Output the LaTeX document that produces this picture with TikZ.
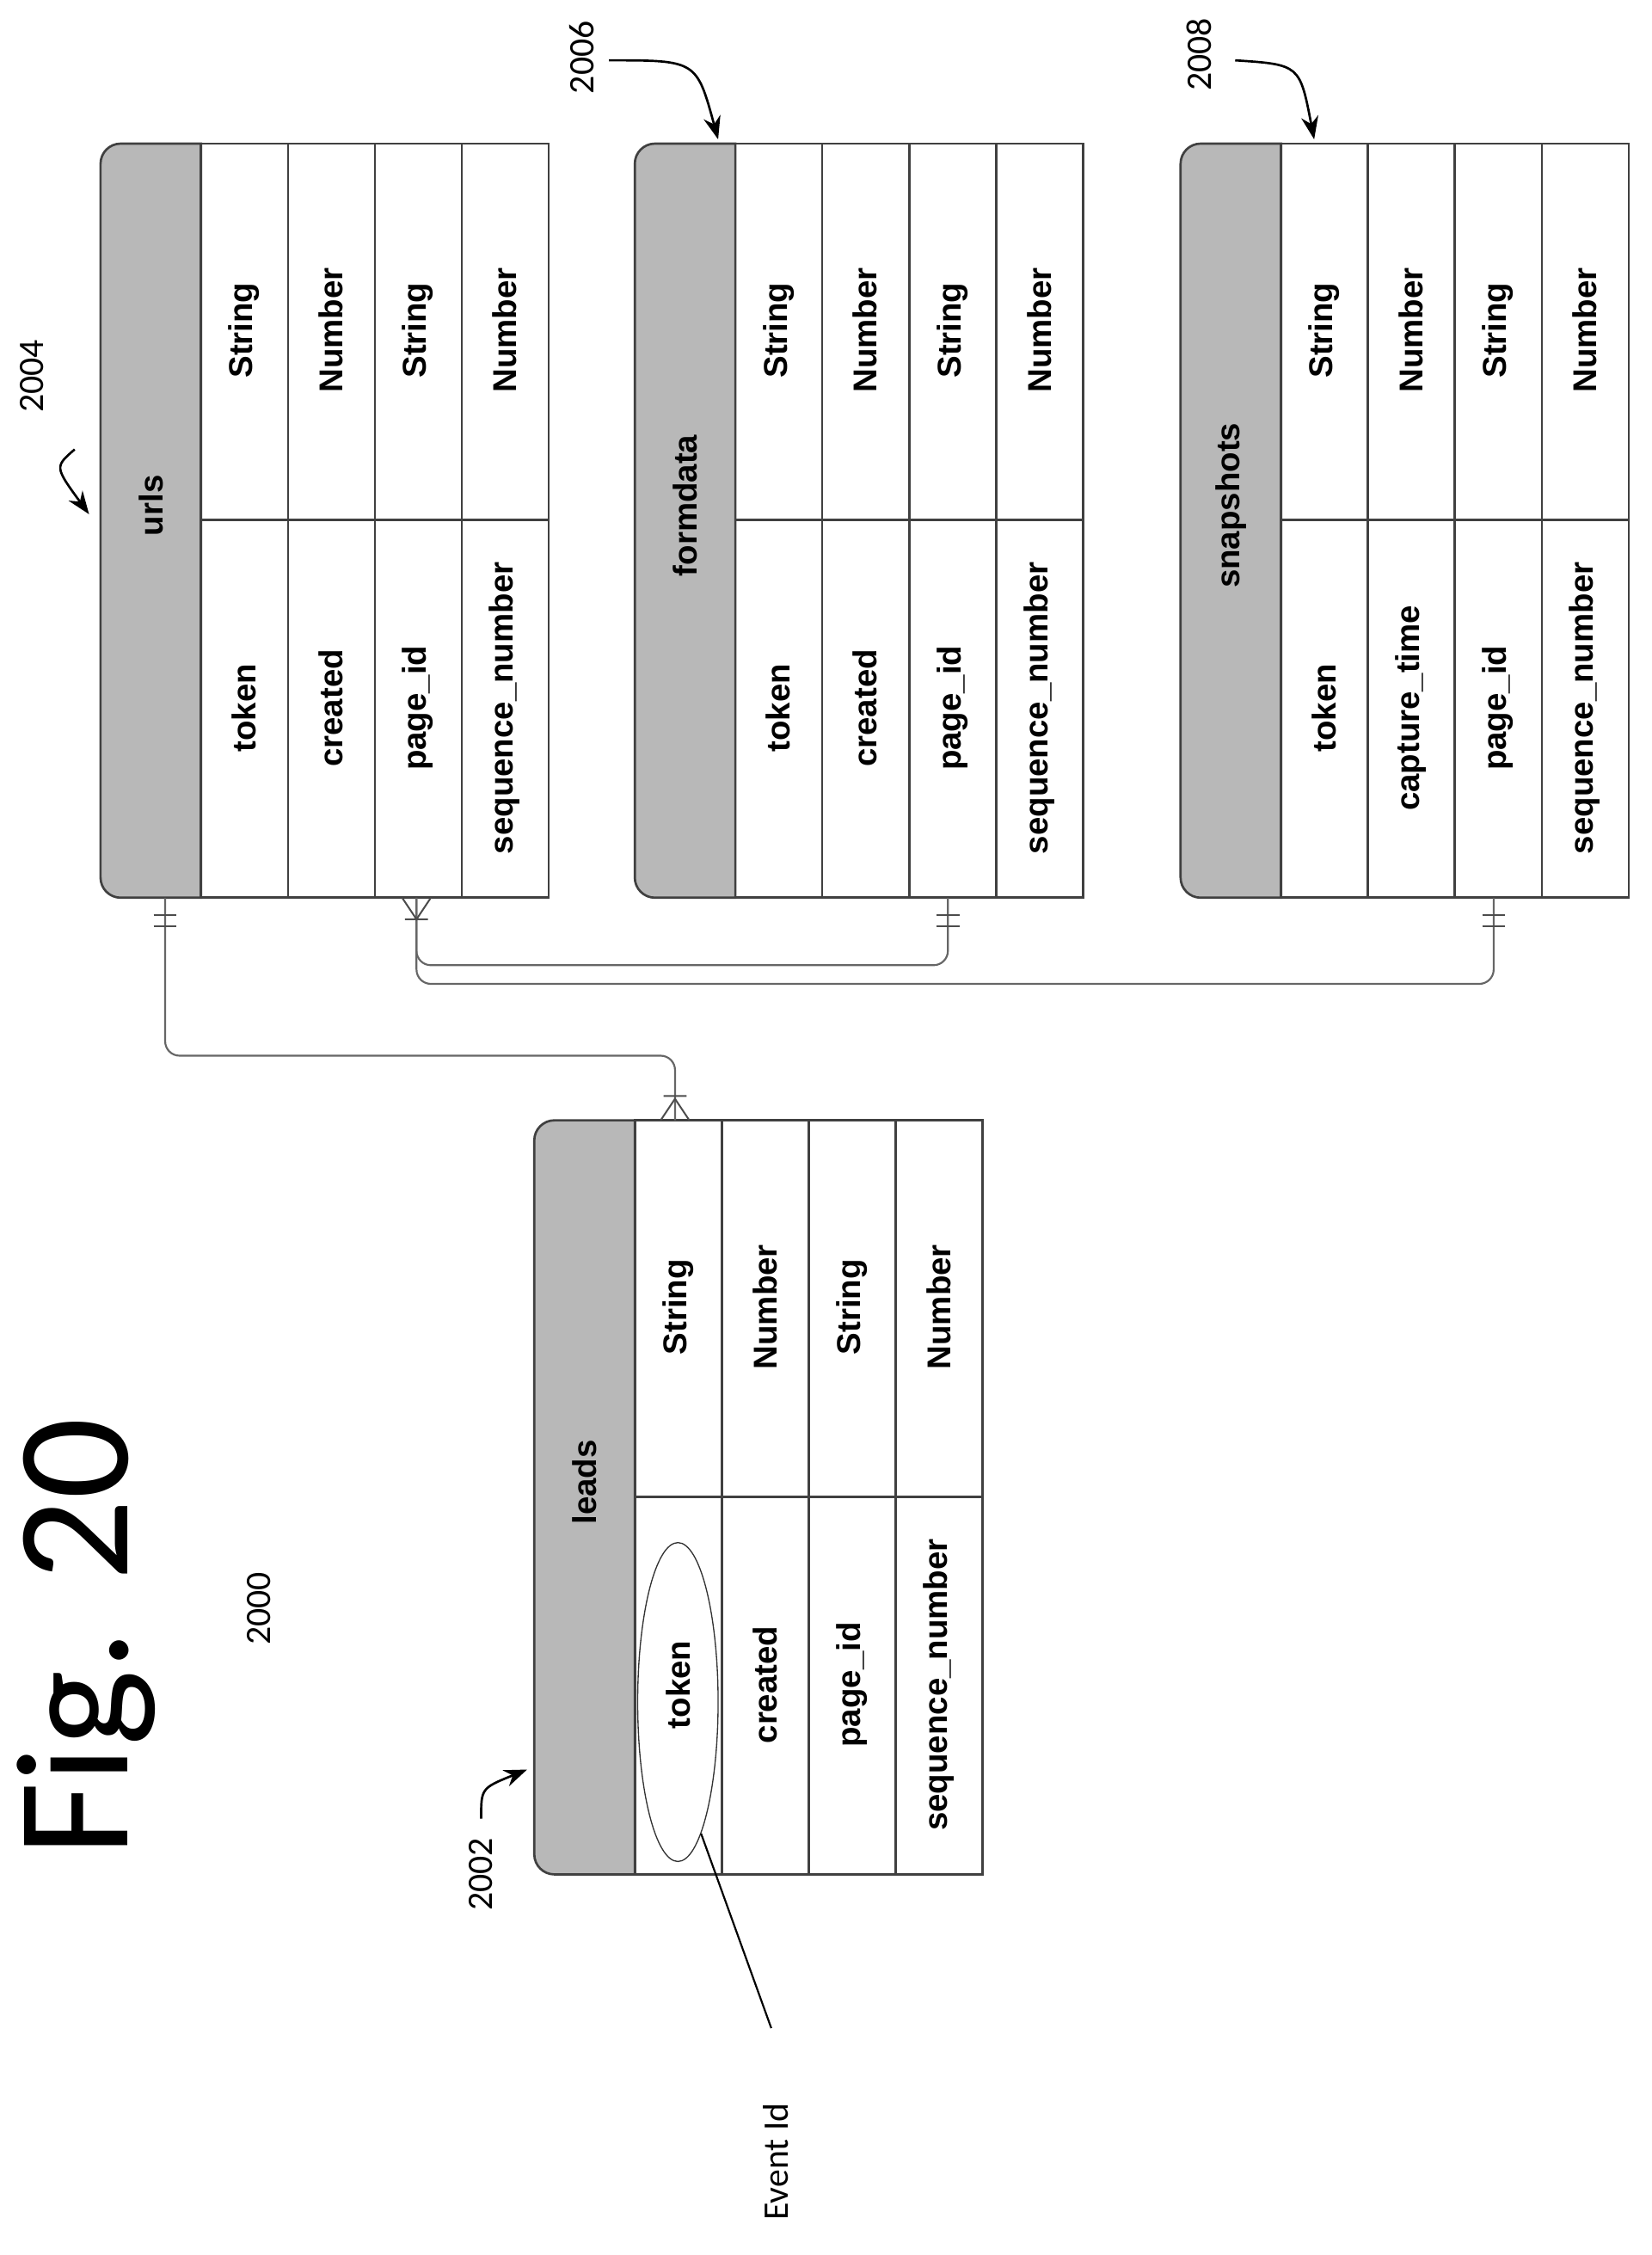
\documentclass[tikz,border=0pt]{standalone}
\usepackage{fontspec}
\setmainfont{Liberation Sans}
\newfontfamily\lbl{Carlito}
\usetikzlibrary{arrows.meta,shapes.geometric}
\tikzset{
 tline/.style={draw=black!75,line width=1.6pt},
 hdr/.style={fill=black!28,draw=black!75,line width=1.6pt},
 ttxt/.style={rotate=90,font=\fontsize{23}{23}\selectfont\bfseries},
 lbltxt/.style={rotate=90,font=\lbl\fontsize{25}{25}\selectfont},
 conn/.style={draw=black!60,line width=1.3pt,rounded corners=10},
 ref/.style={line width=1.6pt,-{Stealth[length=16pt,width=12pt]}},
}
\newcommand\erdtab[8]{%
 \fill[hdr] ({#2+70},#3) [rounded corners=14] -- (#2,#3) -- (#2,{#3+525}) [sharp corners] -- ({#2+70},{#3+525}) -- cycle;
 \draw[tline] ({#2+70},#3) rectangle ({#2+312},{#3+525});
 \foreach \k in {1,2,3} {\draw[tline] ({#2+70+60.5*\k},#3) -- ({#2+70+60.5*\k},{#3+525});}
 \draw[tline] ({#2+70},{#3+262}) -- ({#2+312},{#3+262});
 \node[ttxt] (#1-title) at ({#2+35},{#3+252}) {#4};
 \node[ttxt] (#1-t1) at ({#2+100},{#3+130}) {String};
 \node[ttxt] (#1-t2) at ({#2+160.5},{#3+130}) {Number};
 \node[ttxt] (#1-t3) at ({#2+221},{#3+130}) {String};
 \node[ttxt] (#1-t4) at ({#2+281.5},{#3+130}) {Number};
 \node[ttxt] (#1-n1) at ({#2+100},{#3+393}) {#5};
 \node[ttxt] (#1-n2) at ({#2+160.5},{#3+393}) {#6};
 \node[ttxt] (#1-n3) at ({#2+221},{#3+393}) {#7};
 \node[ttxt] (#1-n4) at ({#2+281.5},{#3+393}) {#8};
}
\begin{document}
\begin{tikzpicture}[x=1pt,y=-1pt]
\useasboundingbox (0,0) rectangle (1150,1570);
\erdtab{urls}{70}{100}{urls}{token}{created}{page\_id}{sequence\_number}
\erdtab{formdata}{442}{100}{formdata}{token}{created}{page\_id}{sequence\_number}
\erdtab{snap}{822}{100}{snapshots}{token}{capture\_time}{page\_id}{sequence\_number}
\erdtab{leads}{372}{780}{leads}{token}{created}{page\_id}{sequence\_number}
% connection points
\coordinate (uA) at (115,625); \coordinate (lA) at (470,780);
\coordinate (uB) at (290,625); \coordinate (fB) at (660,625); \coordinate (sB) at (1040,625);
\draw[conn] (uA) -- (115,735) -- (470,735) -- (lA);
\draw[conn] (uB) -- (290,672) -- (660,672) -- (fB);
\draw[conn] (uB) -- (290,685) -- (1040,685) -- (sB);
% cardinality marks
\foreach \p in {uA,fB,sB} {\draw[black!70,line width=1.2pt] ([xshift=-8,yshift=-12]\p) -- ([xshift=8,yshift=-12]\p) ([xshift=-8,yshift=-20]\p) -- ([xshift=8,yshift=-20]\p);}
\draw[black!70,line width=1.2pt] ([xshift=-10]uB) -- ([yshift=-15]uB) -- ([xshift=10]uB) ([xshift=-8,yshift=-15]uB) -- ([xshift=8,yshift=-15]uB);
\draw[black!70,line width=1.2pt] ([xshift=-10]lA) -- ([yshift=15]lA) -- ([xshift=10]lA) ([xshift=-8,yshift=17]lA) -- ([xshift=8,yshift=17]lA);
% event id
\node[draw=black!80,line width=0.8pt,ellipse,minimum width=56,minimum height=222,inner sep=0pt] (ell) at (472,1185) {};
\node[lbltxt] (ev) at (540,1505) {Event Id};
\draw[line width=1.3pt] (ell.-80) -- (537,1412);
% labels
\node[rotate=90,font=\lbl\fontsize{112}{112}\selectfont] (fig) at (60,1140) {Fig. 20};
\node[lbltxt] (n2000) at (180,1120) {2000};
\node[lbltxt] (n2004) at (22,262) {2004};
\node[lbltxt] (n2006) at (405,40) {2006};
\node[lbltxt] (n2008) at (835,38) {2008};
\node[lbltxt] (n2002) at (335,1305) {2002};
\coordinate (a4) at (62,358); \coordinate (a6) at (500,97); \coordinate (a8) at (915,97); \coordinate (a2) at (367,1232);
\draw[ref] (n2004.west) ++(30,22) .. controls (38,325) .. (a4);
\draw[ref] (424,42) .. controls (485,42) .. (a6);
\draw[ref] (860,42) .. controls (905,45) .. (a8);
\draw[ref] (n2002.east) ++(0,-10) .. controls (335,1245) .. (a2);
\end{tikzpicture}
\end{document}
